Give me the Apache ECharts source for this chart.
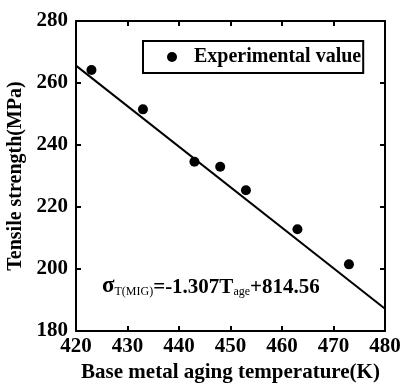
<!DOCTYPE html>
<html><head><meta charset="utf-8">
<script src="https://cdn.jsdelivr.net/npm/echarts@6/dist/echarts.min.js"></script>
<style>html,body{margin:0;padding:0;background:#fff}#c{width:401px;height:384px}</style>
</head><body><div id="c"></div>
<script>
const tempK = [423, 433, 443, 448, 453, 463, 473];
const strength = [264.2, 251.5, 234.6, 233.0, 225.4, 212.8, 201.5];
const fitX = [420, 480];
const fitY = [265.6, 187.2];
const xTicks = [420, 430, 440, 450, 460, 470, 480];
const yTicks = [180, 200, 220, 240, 260, 280];

const F = '"Liberation Serif", "DejaVu Serif", serif';
const chart = echarts.init(document.getElementById('c'));
const axisCommon = {
  axisLine: {show: true, lineStyle: {color: '#000', width: 2}},
  axisTick: {show: true, inside: true, length: 5, lineStyle: {color: '#000', width: 2}},
  splitLine: {show: false}
};
chart.setOption({
  animation: false,
  grid: {left: 76, right: 16, top: 21, bottom: 53, containLabel: false, outerBoundsMode: 'none'},
  legend: {
    data: ['Experimental value'],
    left: 143, top: 41,
    orient: 'horizontal',
    borderColor: '#000', borderWidth: 2, borderRadius: 0,
    padding: [6, 2, 6, 24],
    itemWidth: 10, itemHeight: 10, itemGap: 10,
    icon: 'circle',
    itemStyle: {color: '#000', opacity: 1},
    textStyle: {fontFamily: F, fontWeight: 'bold', fontSize: 20, color: '#000', padding: [0, 0, 0, 12]}
  },
  xAxis: [
    Object.assign({type: 'value', min: 420, max: 480, interval: 10,
      name: 'Base metal aging temperature(K)', nameLocation: 'middle', nameGap: 30,
      nameTextStyle: {fontFamily: F, fontWeight: 'bold', fontSize: 21, color: '#000'},
      axisLabel: {fontFamily: F, fontWeight: 'bold', fontSize: 21, color: '#000', margin: 5,
        formatter: v => xTicks.includes(v) ? String(v) : ''}}, axisCommon),
    Object.assign({type: 'value', position: 'top', min: 420, max: 480, interval: 10,
      axisLabel: {show: false}}, axisCommon)
  ],
  yAxis: [
    Object.assign({type: 'value', min: 180, max: 280, interval: 20,
      name: 'Tensile strength(MPa)', nameLocation: 'middle', nameGap: 45,
      nameTextStyle: {fontFamily: F, fontWeight: 'bold', fontSize: 20, color: '#000'},
      axisLabel: {fontFamily: F, fontWeight: 'bold', fontSize: 21, color: '#000', margin: 8,
        formatter: v => yTicks.includes(v) ? String(v) : ''}}, axisCommon),
    Object.assign({type: 'value', position: 'right', min: 180, max: 280, interval: 20,
      axisLabel: {show: false}}, axisCommon)
  ],
  series: [
    {name: 'Experimental value', type: 'scatter', symbol: 'circle', symbolSize: 10,
      itemStyle: {color: '#000', opacity: 1}, data: tempK.map((t, i) => [t, strength[i]]), z: 3},
    {name: 'fit', type: 'line', symbol: 'none', lineStyle: {color: '#000', width: 2},
      data: fitX.map((t, i) => [t, fitY[i]]), z: 2}
  ],
  graphic: [{
    type: 'text', left: 102, top: 270,
    style: {
      text: '{s|σ}{sub|T(MIG)}{m|=-1.307T}{sub|age}{m|+814.56}',
      rich: {
        s: {fontFamily: F, fontWeight: 'bold', fontSize: 23, fill: '#000', verticalAlign: 'bottom', lineHeight: 26},
        m: {fontFamily: F, fontWeight: 'bold', fontSize: 21, fill: '#000', verticalAlign: 'bottom', lineHeight: 26},
        sub: {fontFamily: F, fontSize: 12, fill: '#000', verticalAlign: 'bottom', lineHeight: 26, padding: [16, 0, 0, 0]}
      }
    }
  }]
});
</script></body></html>
